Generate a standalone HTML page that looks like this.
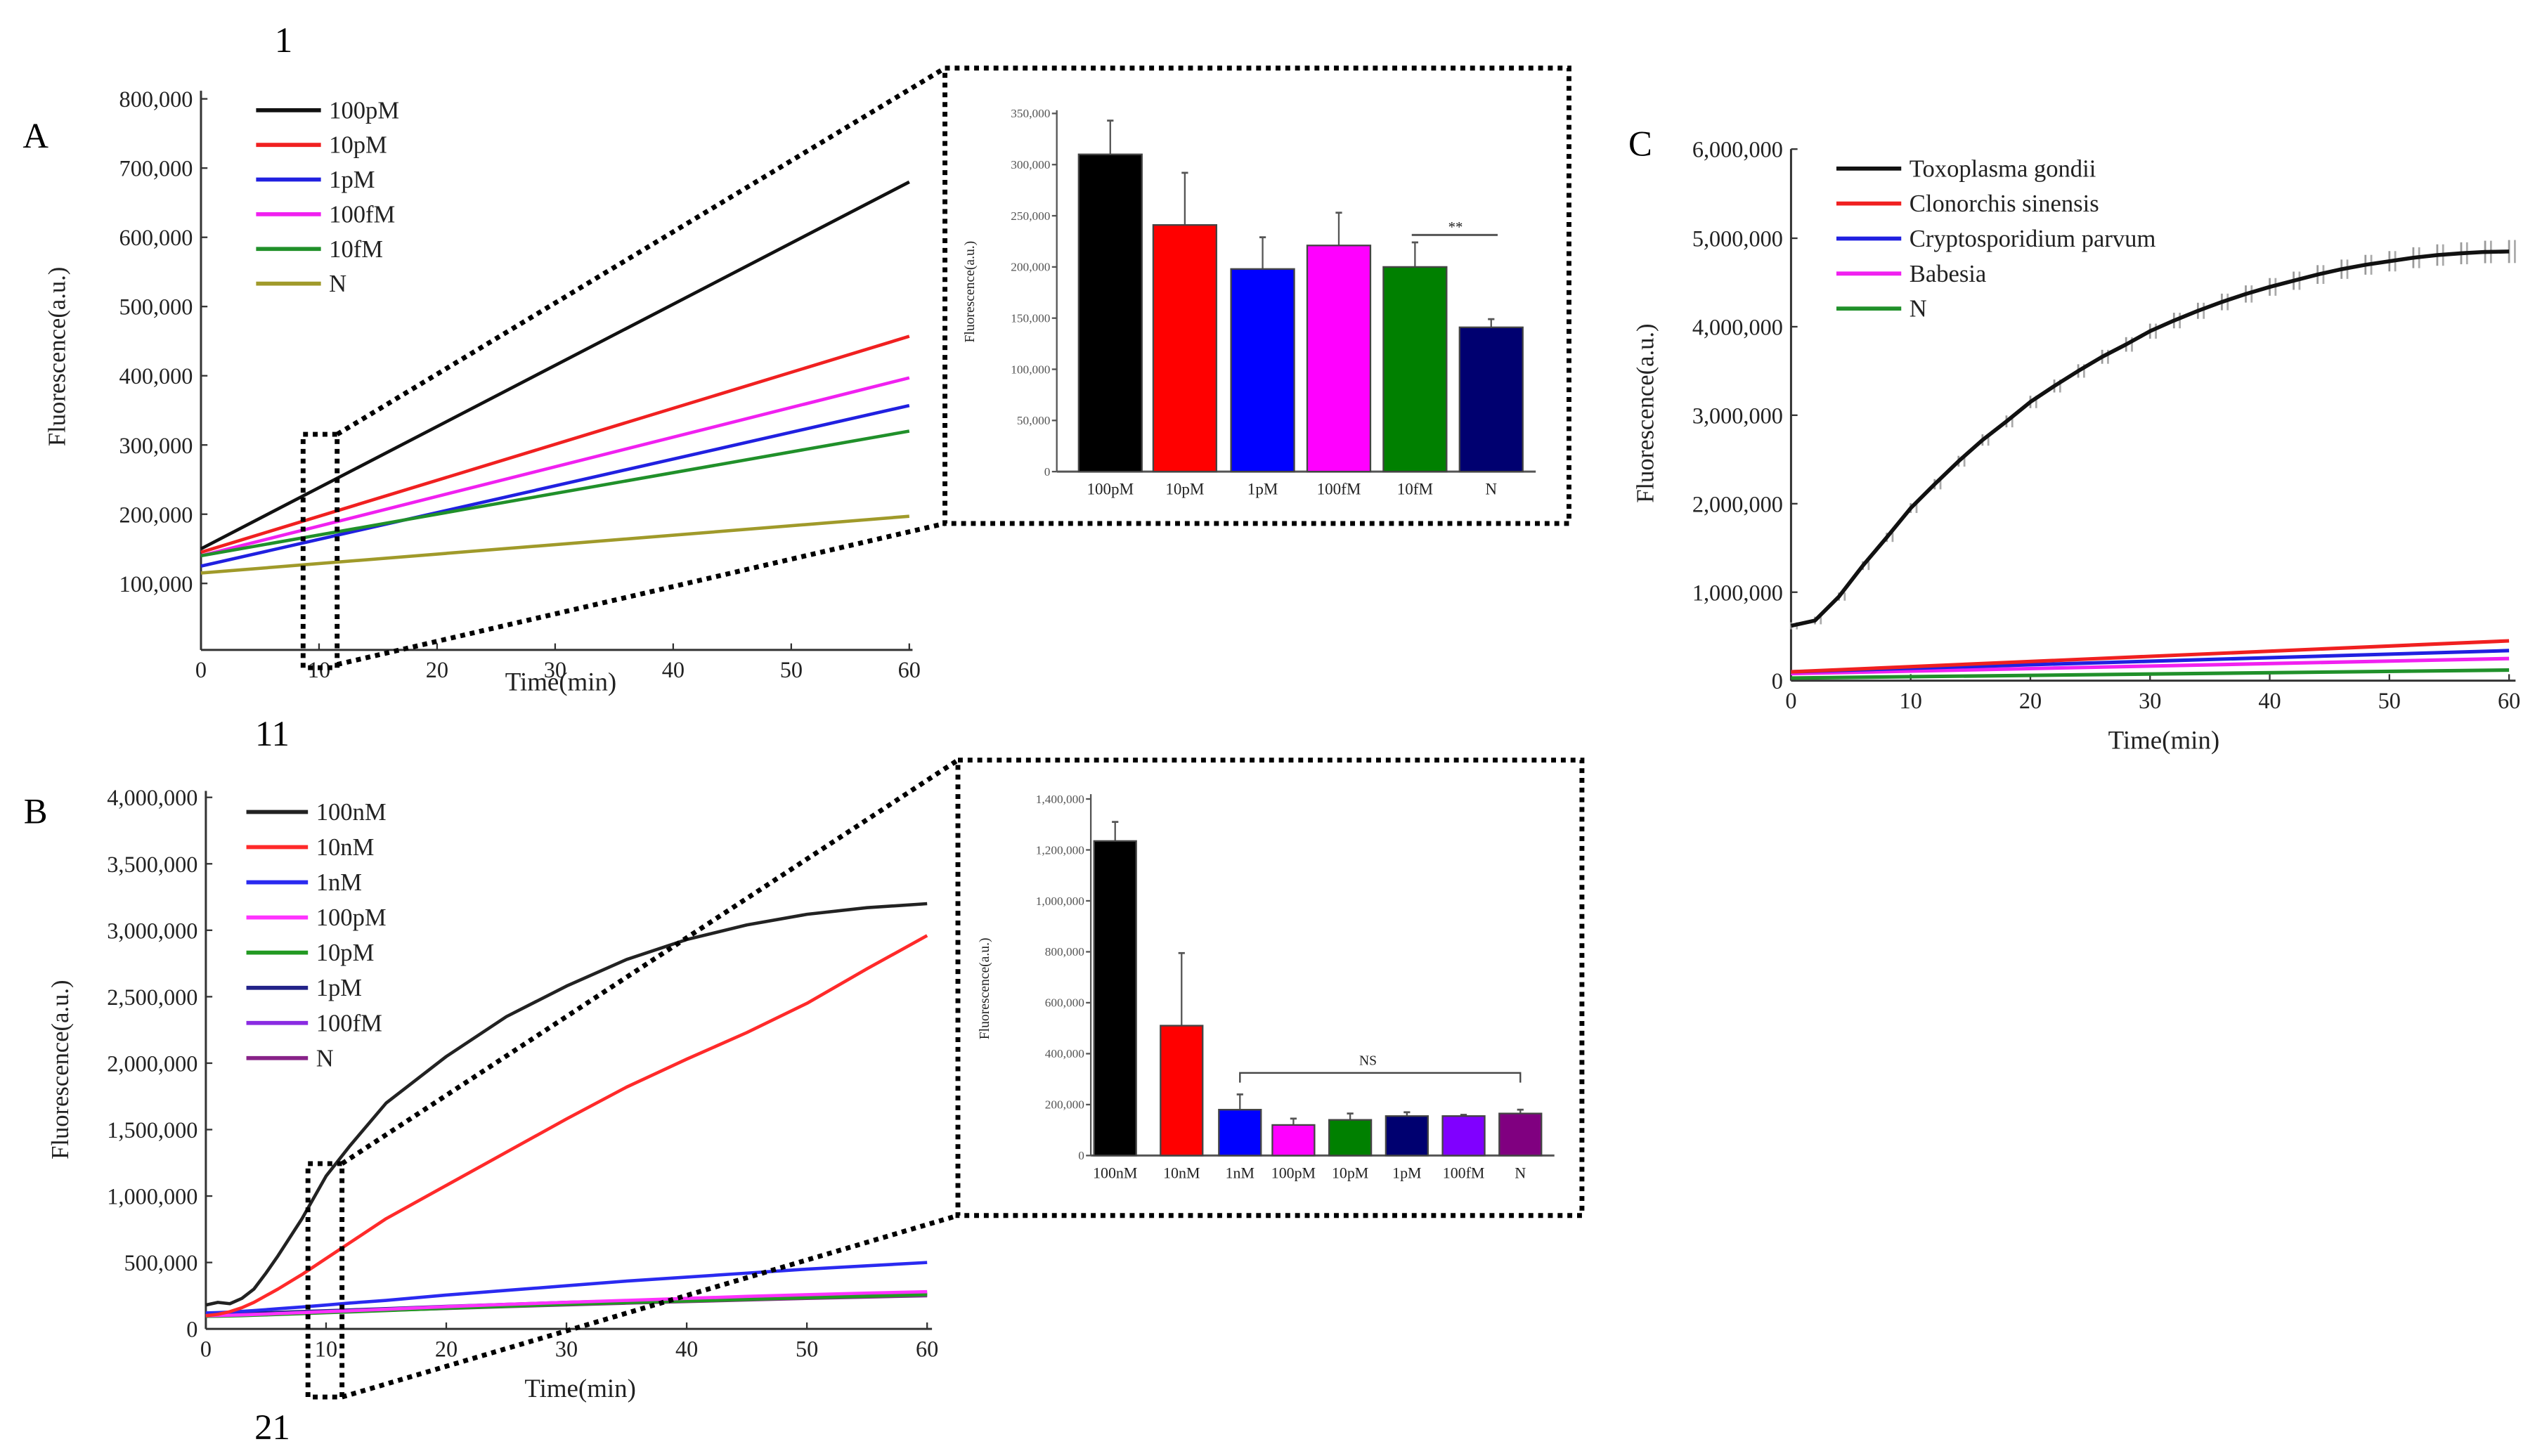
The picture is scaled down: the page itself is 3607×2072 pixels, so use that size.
<!DOCTYPE html>
<html><head><meta charset="utf-8"><style>
html,body{margin:0;padding:0;background:#fff;}
svg{display:block;font-family:"Liberation Serif",serif;}
svg text{font-family:"Liberation Serif",serif;}
</style></head><body>
<svg id="fig" width="3607" height="2072" viewBox="0 0 1564 898.4" preserveAspectRatio="none" xmlns="http://www.w3.org/2000/svg">
<rect width="1564" height="898.4" fill="#fff"/>
</svg>
<script>
// ---- data ----
const timeA=[0,60];
const a100pM=[150000,680000], a10pM=[145000,457000], a1pM=[125000,357000], a100fM=[140000,397000], a10fM=[140000,320000], aN=[115000,197000];
const aNames=['100pM','10pM','1pM','100fM','10fM','N'];
const aColors=['#111','#f02020','#2020e0','#f020f0','#20902a','#a09a2a'];
const barACats=['100pM','10pM','1pM','100fM','10fM','N'];
const barAVals=[310000,241000,198000,221000,200000,141000];
const barAErr=[343000,292000,229000,253000,224000,149000];
const barAColors=['#000','#f00','#00f','#f0f','#008000','#000070'];
const timeB=[0,1,2,3,4,5,6,8,10,12,15,20,25,30,35,40,45,50,55,60];
const b100nM=[180000,200000,190000,230000,300000,420000,550000,830000,1150000,1380000,1700000,2050000,2350000,2580000,2780000,2930000,3040000,3120000,3170000,3200000];
const b10nM=[100000,110000,130000,160000,200000,250000,300000,410000,530000,650000,830000,1080000,1330000,1580000,1820000,2030000,2230000,2450000,2710000,2960000];
const b1nM=[120000,123000,127000,132000,138000,145000,152000,165000,180000,195000,215000,255000,290000,325000,360000,390000,420000,450000,475000,500000];
const b100pM=[100000,101000,103000,106000,109000,112000,116000,123000,130000,137000,148000,168000,185000,200000,215000,230000,245000,258000,270000,280000];
const b10pM=[95000,96000,98000,100000,103000,106000,109000,115000,122000,128000,138000,155000,170000,185000,198000,210000,222000,235000,246000,258000];
const b1pM=[110000,111000,113000,116000,119000,122000,125000,131000,137000,143000,153000,170000,185000,200000,212000,225000,237000,250000,260000,270000];
const b100fM=[105000,106000,108000,110000,113000,116000,119000,124000,130000,136000,146000,162000,176000,190000,203000,215000,227000,238000,248000,256000];
const bN=[100000,101000,103000,105000,108000,111000,114000,119000,125000,131000,140000,154000,168000,181000,194000,206000,218000,230000,240000,250000];
const bNames=['100nM','10nM','1nM','100pM','10pM','1pM','100fM','N'];
const bColors=['#222','#ff2a2a','#2a2af0','#ff33ff','#229922','#222288','#8a2be2','#882288'];
const barBCats=['100nM','10nM','1nM','100pM','10pM','1pM','100fM','N'];
const barBVals=[1235000,510000,180000,120000,140000,155000,155000,165000];
const barBErr=[1310000,795000,240000,145000,165000,170000,160000,180000];
const barBColors=['#000','#f00','#00f','#f0f','#008000','#000070','#8000ff','#800080'];
const timeC=[0,2,4,6,8,10,12,14,16,18,20,22,24,26,28,30,32,34,36,38,40,42,44,46,48,50,52,54,56,58,60];
const cToxo=[620000,680000,950000,1300000,1620000,1950000,2220000,2480000,2720000,2930000,3150000,3330000,3500000,3660000,3800000,3950000,4070000,4180000,4280000,4370000,4450000,4520000,4590000,4650000,4700000,4740000,4780000,4810000,4830000,4845000,4850000];
const cClon=[100000,450000], cCryp=[100000,340000], cBabe=[80000,250000], cN=[30000,120000];
const cNames=['Toxoplasma gondii','Clonorchis sinensis','Cryptosporidium parvum','Babesia','N'];
const cColors=['#111','#f02020','#2020e0','#f020f0','#20902a'];
const yTicksA=[100000,200000,300000,400000,500000,600000,700000,800000];
const yTicksAI=[0,50000,100000,150000,200000,250000,300000,350000];
const yTicksB=[0,500000,1000000,1500000,2000000,2500000,3000000,3500000,4000000];
const yTicksBI=[0,200000,400000,600000,800000,1000000,1200000,1400000];
const yTicksC=[0,1000000,2000000,3000000,4000000,5000000];
const xTicks=[0,10,20,30,40,50,60];

const svg=document.getElementById('fig');
const NS='http://www.w3.org/2000/svg';
function el(tag,attrs,parent){const e=document.createElementNS(NS,tag);for(const k in attrs)e.setAttribute(k,attrs[k]);(parent||svg).appendChild(e);return e;}
function txt(s,x,y,size,anchor,parent,extra){const t=el('text',Object.assign({x:x,y:y,'font-size':size,'text-anchor':anchor||'start',fill:'#222','font-family':'Liberation Serif, serif'},extra||{}),parent);t.textContent=s;return t;}
function fmt(v){return v.toLocaleString('en-US');}
function lin(d0,d1,r0,r1){return v=>r0+(v-d0)*(r1-r0)/(d1-d0);}

function lineAxes(g,sx,sy,yt,x0,x1,y0,ytop,fs){
  el('line',{x1:x0,y1:y0,x2:x1,y2:y0,stroke:'#333','stroke-width':1.3},g);
  el('line',{x1:x0,y1:y0,x2:x0,y2:ytop,stroke:'#333','stroke-width':1.3},g);
  xTicks.forEach(t=>{const x=sx(t);el('line',{x1:x,y1:y0,x2:x,y2:y0-4,stroke:'#333'},g);txt(String(t),x,y0+17,fs,'middle',g);});
  yt.forEach(t=>{const y=sy(t);el('line',{x1:x0,y1:y,x2:x0+4,y2:y,stroke:'#333'},g);txt(fmt(t),x0-5,y+5,fs,'end',g);});
}
function poly(g,xs,ys,sx,sy,color,w,name){
  const p=el('polyline',{points:xs.map((x,i)=>sx(x)+','+sy(ys[i])).join(' '),fill:'none',stroke:color,'stroke-width':w,'stroke-linejoin':'round'},g);
  
  
}
function legend(g,names,colors,x,y,dy,len,fs){
  names.forEach((n,i)=>{const lg=el('g',{},g);
    
    
    el('line',{x1:x,y1:y+i*dy,x2:x+len,y2:y+i*dy,stroke:colors[i],'stroke-width':2.5},lg);
    txt(n,x+len+5,y+i*dy+5,fs,'start',lg);});
}
function bars(g,cats,vals,errs,cols,sy,x0,centers,bw,y0,fs,axTop,yt,tfs){
  el('line',{x1:x0,y1:y0,x2:x0,y2:axTop,stroke:'#555','stroke-width':1},g);
  el('line',{x1:x0,y1:y0,x2:centers[centers.length-1]+bw/2+8,y2:y0,stroke:'#555','stroke-width':1.3},g);
  yt.forEach(t=>{const y=sy(t);el('line',{x1:x0-3,y1:y,x2:x0,y2:y,stroke:'#555'},g);txt(fmt(t),x0-4,y+2.5,tfs,'end',g,{fill:'#555'});});
  cats.forEach((c,i)=>{const cx=centers[i];
    const ey=sy(errs[i]),vy=sy(vals[i]);
    el('line',{x1:cx,y1:vy,x2:cx,y2:ey,stroke:'#555','stroke-width':1},g);
    el('line',{x1:cx-2,y1:ey,x2:cx+2,y2:ey,stroke:'#555','stroke-width':1.2},g);
    const r=el('rect',{x:cx-bw/2,y:vy,width:bw,height:y0-vy,fill:cols[i],stroke:'#444','stroke-width':1},g);
    
    
    txt(c,cx,y0+14,fs,'middle',g);});
}
function dotted(g,x,y,w,h,name){const r=el('rect',{x:x,y:y,width:w,height:h,fill:'none',stroke:'#000','stroke-width':3,'stroke-dasharray':'3 3'},g);}
function dline(g,x1,y1,x2,y2){el('line',{x1:x1,y1:y1,x2:x2,y2:y2,stroke:'#000','stroke-width':3,'stroke-dasharray':'3 3'},g);}

// labels
txt('1',175,32,22,'middle',svg,{fill:'#000'});
txt('11',168,460,22,'middle',svg,{fill:'#000'});
txt('21',168,888,22,'middle',svg,{fill:'#000'});

// ---- Panel A ----
const gA=el('g',{});
txt('A',22,91,22,'middle',gA,{fill:'#000'});
const sxA=lin(0,60,124,561), syA=lin(0,800000,402.7,61);
lineAxes(gA,sxA,syA,yTicksA,124,563,401,56,14);
[a100pM,a10pM,a1pM,a100fM,a10fM,aN].forEach((s,i)=>poly(gA,timeA,s,sxA,syA,aColors[i],2,'line-'+aNames[i].toLowerCase()));
legend(gA,aNames,aColors,158,68,21.4,40,15);
txt('Time(min)',346,426,16,'middle',gA);
txt('Fluorescence(a.u.)',0,0,15,'middle',gA,{transform:'translate(40,220) rotate(-90)'});
dotted(gA,187,268,21,144,'zoom-box-a');
dline(gA,208,268,583,42);dline(gA,208,410,583,323);
dotted(gA,583,42,385,281,'inset-a-box');
const syAI=lin(0,350000,291,70);
bars(gA,barACats,barAVals,barAErr,barAColors,syAI,652,[685,731,779,826,873,920],39,291,10,68,yTicksAI,7.5);
txt('Fluorescence(a.u.)',0,0,8.5,'middle',gA,{transform:'translate(601,180) rotate(-90)'});
el('line',{x1:871,y1:145,x2:924,y2:145,stroke:'#555','stroke-width':1.3},gA);
txt('**',898,143,9,'middle',gA);

// ---- Panel B ----
const gB=el('g',{});
txt('B',22,508,22,'middle',gB,{fill:'#000'});
const sxB=lin(0,60,127,572), syB=lin(0,4000000,820,492);
lineAxes(gB,sxB,syB,yTicksB,127,575,820,488,14);
const bSeries=[b100nM,b10nM,b1nM,b100pM,b10pM,b1pM,b100fM,bN];
for(let i=bSeries.length-1;i>=0;i--) poly(gB,timeB,bSeries[i],sxB,syB,bColors[i],2,'line-'+bNames[i].toLowerCase());
legend(gB,bNames,bColors,152,501,21.7,38,15);
txt('Time(min)',358,862,16,'middle',gB);
txt('Fluorescence(a.u.)',0,0,15,'middle',gB,{transform:'translate(42,660) rotate(-90)'});
dotted(gB,190,718,21,144,'zoom-box-b');
dline(gB,211,718,591,469);dline(gB,211,862,591,750);
dotted(gB,591,469,385,281,'inset-b-box');
const syBI=lin(0,1400000,713,493);
bars(gB,barBCats,barBVals,barBErr,barBColors,syBI,673,[688,729,765,798,833,868,903,938],26,713,9.5,490,yTicksBI,7.5);
txt('Fluorescence(a.u.)',0,0,8.5,'middle',gB,{transform:'translate(610,610) rotate(-90)'});
el('polyline',{points:'765,668 765,662 938,662 938,668',fill:'none',stroke:'#444','stroke-width':1},gB);
txt('NS',844,657,8.5,'middle',gB);

// ---- Panel C ----
const gC=el('g',{});
const sxC=lin(0,60,1105,1548), syC=lin(0,5000000,420,147);
lineAxes(gC,sxC,syC,yTicksC,1105,1552,420,92,14);
txt('6,000,000',1100,97,14,'end',gC);
el('line',{x1:1105,y1:92,x2:1109,y2:92,stroke:'#333'},gC);
[cN,cBabe,cCryp,cClon].forEach((s,k)=>{const i=4-k;poly(gC,timeA,s,sxC,syC,cColors[i],2.2,'line-'+cNames[i].toLowerCase().replace(/\s+/g,'-'));});
// error bars for Toxoplasma (grey band)
timeC.forEach((t,i)=>{const x=sxC(t),e=40000+i*3000;
  el('line',{x1:x,y1:syC(cToxo[i]-e),x2:x,y2:syC(cToxo[i]+e),stroke:'#999','stroke-width':1.2},gC);
  el('line',{x1:x+3.6,y1:syC(cToxo[i]-e),x2:x+3.6,y2:syC(cToxo[i]+e),stroke:'#aaa','stroke-width':1.2},gC);});
poly(gC,timeC,cToxo,sxC,syC,cColors[0],2.4,'line-toxoplasma-gondii');
el('rect',{x:1010,y:70,width:26,height:34,fill:'#fff'},gC);
txt('C',1012,96,22,'middle',gC,{fill:'#000'});
legend(gC,cNames,cColors,1133,104,21.6,40,15);
txt('Time(min)',1335,462,16,'middle',gC);
txt('Fluorescence(a.u.)',0,0,15,'middle',gC,{transform:'translate(1020,255) rotate(-90)'});
</script>
</body></html>
